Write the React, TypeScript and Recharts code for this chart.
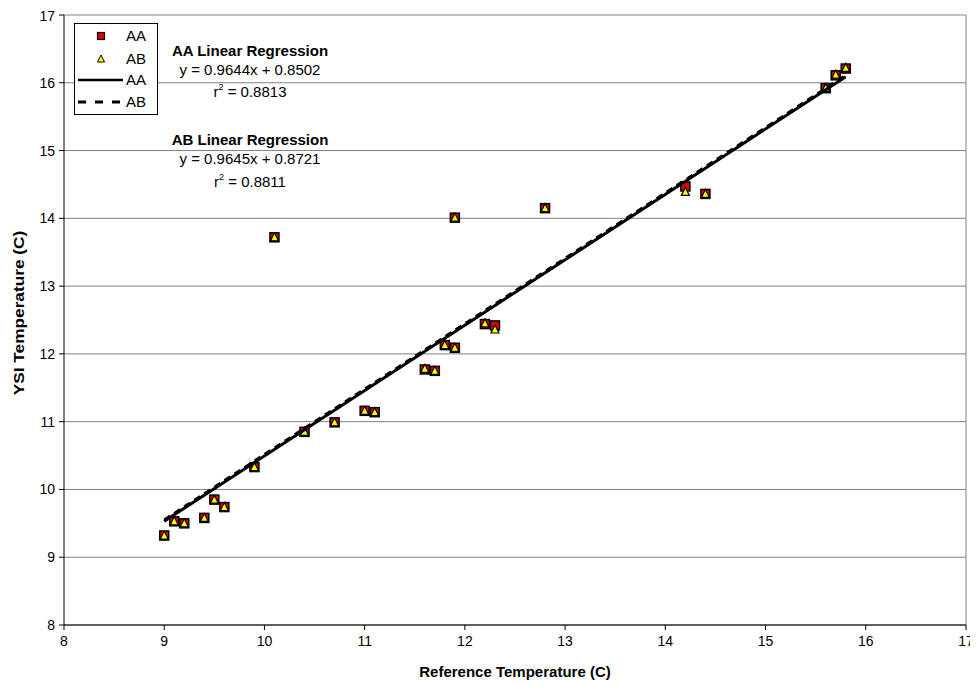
import {
  ComposedChart, Scatter, XAxis, YAxis, CartesianGrid, ReferenceLine,
} from 'recharts';

// reference temperature (x) for each sample
const refTemp = [9.0, 9.1, 9.2, 9.4, 9.5, 9.6, 9.9, 10.1, 10.4, 10.7, 11.0, 11.1, 11.6, 11.7, 11.8, 11.9, 11.9, 12.2, 12.3, 12.8, 14.2, 14.4, 15.6, 15.7, 15.8];
// YSI readings for the two probes
const aaTemp = [9.32, 9.53, 9.50, 9.58, 9.85, 9.74, 10.33, 13.72, 10.85, 10.99, 11.16, 11.14, 11.77, 11.75, 12.13, 12.09, 14.01, 12.44, 12.42, 14.15, 14.47, 14.36, 15.92, 16.11, 16.21];
const abTemp = [9.32, 9.53, 9.50, 9.58, 9.85, 9.74, 10.33, 13.72, 10.85, 10.99, 11.16, 11.14, 11.78, 11.75, 12.13, 12.09, 14.01, 12.45, 12.36, 14.15, 14.39, 14.36, 15.92, 16.12, 16.22];

// regression line end points
const fitX = [9.0, 15.8];
const aaFitY = [9.53, 16.09];
const abFitY = [9.55, 16.11];

const ticks = [8, 9, 10, 11, 12, 13, 14, 15, 16, 17];

const aaPoints = refTemp.map((x, i) => ({ x, y: aaTemp[i] }));
const abPoints = refTemp.map((x, i) => ({ x, y: abTemp[i] }));
const aaFit = fitX.map((x, i) => ({ x, y: aaFitY[i] }));
const abFit = fitX.map((x, i) => ({ x, y: abFitY[i] }));

const font = '"Liberation Sans", Arial, sans-serif';

const Square = (props: any) => {
  const { cx, cy } = props;
  if (cx == null || cy == null) return null;
  return <rect x={cx - 4.5} y={cy - 4.5} width={9} height={9} fill="#e00000" stroke="#000" strokeWidth={1.5} />;
};

const Triangle = (props: any) => {
  const { cx, cy } = props;
  if (cx == null || cy == null) return null;
  return (
    <path
      d={`M${cx},${cy - 4.5} L${cx + 4},${cy + 3.5} L${cx - 4},${cy + 3.5} Z`}
      fill="#ffff00"
      stroke="#000"
      strokeWidth={1.2}
    />
  );
};

const NoDot = () => null;

const Sup = ({ x, y, pre, post }: { x: number; y: number; pre: string; post: string }) => (
  <text x={x} y={y} textAnchor="middle" fontSize={15} fontFamily={font}>
    {pre}
    <tspan fontSize={9} dy={-7}>2</tspan>
    <tspan dy={7}>{post}</tspan>
  </text>
);

const App = () => {
  return (
    <div style={{ position: 'relative', width: 970, height: 678, fontFamily: font, background: '#fff' }}>
      <ComposedChart
        width={970}
        height={678}
        margin={{ top: 7, right: 12, left: 0, bottom: 0 }}
      >
        <CartesianGrid horizontal vertical={false} stroke="#808080" strokeWidth={1} />
        <XAxis
          type="number"
          dataKey="x"
          domain={[8, 17]}
          ticks={ticks}
          height={61}
          stroke="#000"
          tickSize={5}
          tick={{ fill: '#000', fontSize: 14, fontFamily: font }}
          tickMargin={6}
        />
        <YAxis
          type="number"
          dataKey="y"
          domain={[8, 17]}
          ticks={ticks}
          width={56}
          stroke="#000"
          tickSize={5}
          tick={{ fill: '#000', fontSize: 14, fontFamily: font }}
          tickMargin={4}
        />
        <ReferenceLine x={17} stroke="#808080" />
        <Scatter data={aaPoints} shape={<Square />} isAnimationActive={false} />
        <Scatter data={abPoints} shape={<Triangle />} isAnimationActive={false} />
        <Scatter data={aaFit} line={{ stroke: '#000', strokeWidth: 3 }} shape={<NoDot />} isAnimationActive={false} />
        <Scatter data={abFit} line={{ stroke: '#000', strokeWidth: 3, strokeDasharray: '7 5' }} shape={<NoDot />} isAnimationActive={false} />
      </ComposedChart>

      {/* titles, legend and regression notes */}
      <svg width={970} height={678} style={{ position: 'absolute', left: 0, top: 0, pointerEvents: 'none' }}>
        <text x={507} y={669} textAnchor="middle" fontSize={15} fontWeight="bold" fontFamily={font}>
          Reference Temperature (C)
        </text>
        <text
          transform="translate(16,305) rotate(-90) scale(1.15,1)"
          textAnchor="middle"
          fontSize={15}
          fontWeight="bold"
          fontFamily={font}
        >
          YSI Temperature (C)
        </text>

        <g transform="translate(66,15)">
          <rect x={0.5} y={0.5} width={83} height={91} fill="#fff" stroke="#000" strokeWidth={1} />
          <rect x={23.5} y={9.5} width={7} height={7} fill="#e00000" stroke="#000" strokeWidth={1.2} />
          <path d="M27,32 L30.5,39 L23.5,39 Z" fill="#ffff00" stroke="#000" strokeWidth={1} />
          <line x1={4} y1={57} x2={49} y2={57} stroke="#000" strokeWidth={2.5} />
          <line x1={4} y1={79} x2={49} y2={79} stroke="#000" strokeWidth={3} strokeDasharray="8 9" />
          <text x={52} y={18} fontSize={15} fontFamily={font}>AA</text>
          <text x={52} y={41} fontSize={15} fontFamily={font}>AB</text>
          <text x={52} y={62} fontSize={15} fontFamily={font}>AA</text>
          <text x={52} y={84} fontSize={15} fontFamily={font}>AB</text>
        </g>

        <text x={242} y={48} textAnchor="middle" fontSize={15} fontWeight="bold" fontFamily={font}>AA Linear Regression</text>
        <text x={242} y={67} textAnchor="middle" fontSize={15} fontFamily={font}>y = 0.9644x + 0.8502</text>
        <Sup x={242} y={89} pre="r" post=" = 0.8813" />

        <text x={242} y={137} textAnchor="middle" fontSize={15} fontWeight="bold" fontFamily={font}>AB Linear Regression</text>
        <text x={242} y={156} textAnchor="middle" fontSize={15} fontFamily={font}>y = 0.9645x + 0.8721</text>
        <Sup x={242} y={179} pre="r" post=" = 0.8811" />
      </svg>
    </div>
  );
};

export default App;
